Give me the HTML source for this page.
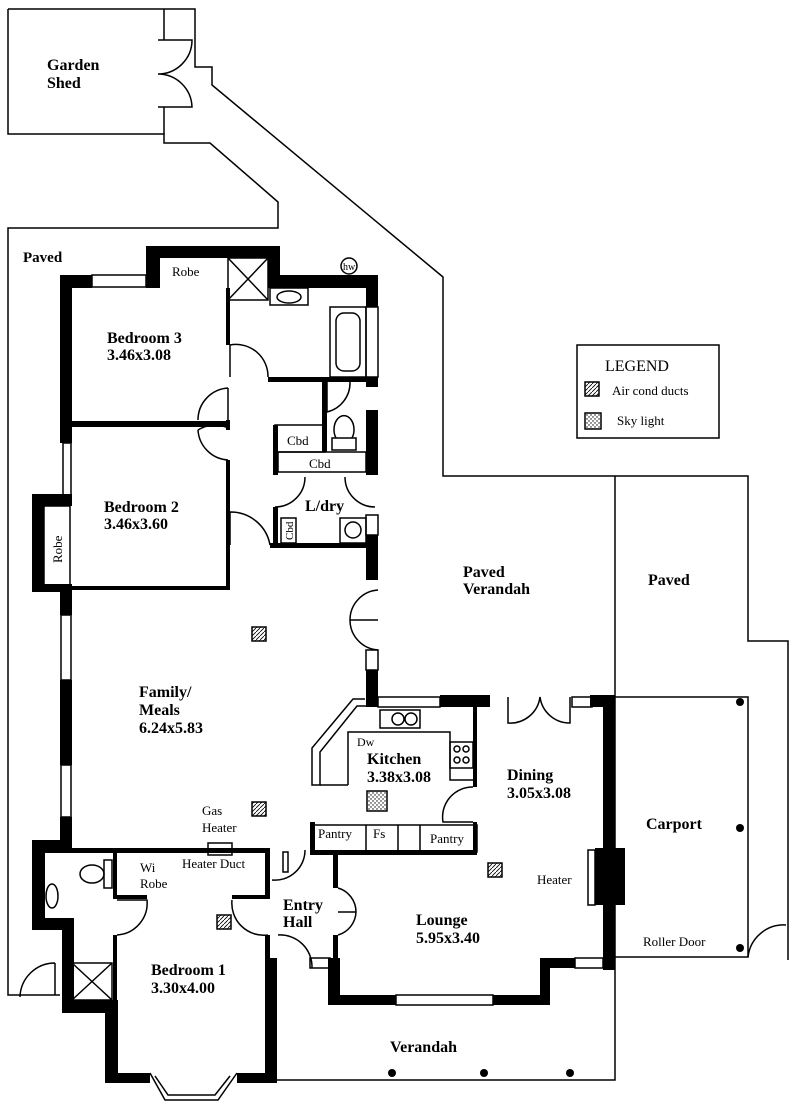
<!DOCTYPE html>
<html><head><meta charset="utf-8"><style>
html,body{margin:0;padding:0;background:#fff}
svg{display:block}
.b{font-family:"Liberation Serif",serif;font-weight:bold;font-size:16px}
.r{font-family:"Liberation Serif",serif;font-size:13px}
</style></head><body>
<svg width="800" height="1115" viewBox="0 0 800 1115" xmlns="http://www.w3.org/2000/svg">
<defs>
<pattern id="hat" width="4" height="4" patternUnits="userSpaceOnUse"><path d="M0,4 L4,0" stroke="#000" stroke-width="0.8"/></pattern>
<pattern id="dot" width="4" height="4" patternUnits="userSpaceOnUse"><circle cx="1" cy="1" r="0.7" fill="#000"/><circle cx="3" cy="3" r="0.7" fill="#000"/></pattern>
</defs>
<g fill="none" stroke="#000" stroke-width="1.5">
<path d="M8,9 H195 V67 H212 V85 L443,277 V476 H748 V641 H788 V960"/>
<path d="M8,9 V134 H164 V143 H210 L278,202 V228 H8 V995 H60"/>
<path d="M164,9 V40 M164,107 V134 M158,40 H192 A34,34 0 0 1 158,74 M158,107 H192 A34,34 0 0 0 158,74"/>
<path d="M615,476 V697"/>
<rect x="615" y="697" width="133" height="260"/>
<path d="M748,957 A36,36 0 0 1 786,925"/>
<path d="M275,1080 H615 V957"/>
<path d="M55,963 V995 M55,963 A35,35 0 0 0 20,997"/>
<rect x="228" y="258" width="40" height="42"/>
<path d="M228,258 L268,300 M268,258 L228,300"/>
<rect x="270" y="288" width="38" height="17"/>
<ellipse cx="289" cy="297" rx="12" ry="6"/>
<rect x="330" y="307" width="36" height="70"/>
<rect x="336" y="313" width="24" height="58" rx="8"/>
<rect x="275" y="425" width="50" height="27"/>
<rect x="278" y="452" width="88" height="20"/>
<rect x="332" y="438" width="24" height="12"/>
<path d="M336,438 A10,14 0 1 1 352,438"/>
<rect x="281" y="518" width="15" height="25"/>
<rect x="340" y="518" width="26" height="25"/>
<circle cx="353" cy="530" r="8"/>
<rect x="44" y="506" width="26" height="84"/>
<path d="M230,345 A32,32 0 0 1 268,377"/>
<path d="M230,345 V377"/>
<path d="M228,388 A32,32 0 0 0 198,420 M228,428 A32,32 0 0 0 198,430 M198,430 A32,32 0 0 0 228,460"/>
<path d="M228,388 V420"/>
<path d="M230,512 A40,40 0 0 1 270,545 M230,512 V545"/>
<path d="M327,382 V412 A30,30 0 0 0 350,382"/>
<path d="M305,477 A30,30 0 0 1 275,507 M345,477 A30,30 0 0 0 375,507"/>
<path d="M378,590 A30,30 0 0 0 350,620 A30,30 0 0 0 378,650 M350,620 H378"/>
<path d="M365,699 H353 L312,748 V785 H320 V752 L357,706 H366"/>
<path d="M348,785 V732 H450 V780 H473"/>
<path d="M348,785 H320"/>
<rect x="380" y="710" width="40" height="18"/>
<circle cx="398" cy="719" r="6"/><circle cx="411" cy="719" r="6"/>
<rect x="450" y="742" width="23" height="26"/>
<circle cx="457" cy="749" r="3"/><circle cx="466" cy="749" r="3"/><circle cx="457" cy="760" r="3"/><circle cx="466" cy="760" r="3"/>
<path d="M473,787 A30,30 0 0 0 443,822 H473"/>
<path d="M508,697 V723 A30,30 0 0 0 540,697 A30,30 0 0 0 570,723 V697"/>
<rect x="312" y="825" width="165" height="27"/>
<path d="M366,825 V852 M398,825 V852 M420,825 V852"/>
<rect x="72" y="963" width="40" height="37"/>
<path d="M72,963 L112,1000 M112,963 L72,1000"/>
<ellipse cx="52" cy="896" rx="6" ry="12"/>
<rect x="104" y="860" width="8" height="28"/>
<ellipse cx="92" cy="874" rx="12" ry="9"/>
<path d="M117,900 H147 A32,32 0 0 1 117,935"/>
<path d="M232,900 A32,32 0 0 0 268,935"/>
<path d="M272,880 A30,30 0 0 0 305,850"/>
<path d="M278,935 A32,32 0 0 1 312,968"/>
<path d="M338,888 A25,25 0 0 1 356,912 A25,25 0 0 1 338,935 M338,912 H356"/>
<rect x="310" y="958" width="20" height="10"/>
<path d="M150,1073 L165,1100 H218 L237,1073 M155,1076 L168,1095 H215 L230,1076"/>
<rect x="208" y="843" width="24" height="12"/>
<rect x="588" y="850" width="7" height="55"/>
<rect x="283" y="852" width="5" height="20"/>
<rect x="92" y="275" width="54" height="12"/>
<rect x="366" y="307" width="12" height="70"/>
<rect x="63" y="443" width="8" height="52"/>
<rect x="61" y="615" width="10" height="65"/>
<rect x="61" y="765" width="10" height="52"/>
<rect x="378" y="697" width="62" height="10"/>
<rect x="572" y="697" width="20" height="10"/>
<rect x="396" y="995" width="97" height="10"/>
<rect x="575" y="958" width="28" height="10"/>
<rect x="366" y="515" width="12" height="20"/>
<rect x="366" y="650" width="12" height="20"/>
</g>
<g fill="#000">
<rect x="60" y="275" width="32" height="13"/>
<rect x="146" y="246" width="14" height="42"/>
<rect x="146" y="246" width="134" height="12"/>
<rect x="268" y="246" width="12" height="42"/>
<rect x="268" y="275" width="110" height="13"/>
<rect x="366" y="275" width="12" height="32"/>
<rect x="366" y="377" width="12" height="10"/>
<rect x="366" y="410" width="12" height="65"/>
<rect x="366" y="535" width="12" height="45"/>
<rect x="366" y="670" width="12" height="37"/>
<rect x="60" y="275" width="12" height="168"/>
<rect x="32" y="494" width="40" height="12"/>
<rect x="32" y="494" width="12" height="96"/>
<rect x="32" y="584" width="40" height="8"/>
<rect x="60" y="584" width="12" height="31"/>
<rect x="60" y="680" width="12" height="85"/>
<rect x="60" y="817" width="12" height="36"/>
<rect x="72" y="421" width="156" height="6"/>
<rect x="226" y="288" width="4" height="57"/>
<rect x="226" y="420" width="4" height="10"/>
<rect x="226" y="460" width="4" height="130"/>
<rect x="72" y="586" width="158" height="4"/>
<rect x="268" y="377" width="98" height="5"/>
<rect x="322" y="382" width="5" height="70"/>
<rect x="273" y="425" width="5" height="50"/>
<rect x="273" y="507" width="5" height="40"/>
<rect x="270" y="543" width="108" height="5"/>
<rect x="440" y="695" width="50" height="12"/>
<rect x="590" y="695" width="25" height="12"/>
<rect x="603" y="695" width="12" height="275"/>
<rect x="595" y="848" width="30" height="57"/>
<rect x="473" y="705" width="4" height="82"/>
<rect x="473" y="822" width="4" height="33"/>
<rect x="310" y="822" width="5" height="33"/>
<rect x="312" y="850" width="165" height="5"/>
<rect x="32" y="840" width="40" height="13"/>
<rect x="32" y="840" width="13" height="90"/>
<rect x="32" y="918" width="42" height="12"/>
<rect x="62" y="918" width="12" height="95"/>
<rect x="62" y="1000" width="56" height="13"/>
<rect x="105" y="1000" width="13" height="83"/>
<rect x="105" y="1073" width="45" height="10"/>
<rect x="237" y="1073" width="38" height="10"/>
<rect x="265" y="958" width="12" height="125"/>
<rect x="265" y="935" width="5" height="25"/>
<rect x="62" y="848" width="208" height="5"/>
<rect x="113" y="853" width="4" height="45"/>
<rect x="113" y="895" width="34" height="4"/>
<rect x="232" y="895" width="38" height="4"/>
<rect x="265" y="853" width="5" height="45"/>
<rect x="113" y="935" width="4" height="65"/>
<rect x="333" y="853" width="5" height="35"/>
<rect x="333" y="935" width="5" height="23"/>
<rect x="328" y="958" width="12" height="47"/>
<rect x="328" y="995" width="68" height="10"/>
<rect x="493" y="995" width="57" height="10"/>
<rect x="540" y="958" width="10" height="47"/>
<rect x="540" y="958" width="35" height="10"/>
<circle cx="740" cy="702" r="4"/><circle cx="740" cy="828" r="4"/><circle cx="740" cy="948" r="4"/>
<circle cx="392" cy="1073" r="4"/><circle cx="484" cy="1073" r="4"/><circle cx="570" cy="1073" r="4"/>
</g>
<g stroke="#000" stroke-width="1.5">
<rect x="252" y="627" width="14" height="14" fill="url(#hat)"/>
<rect x="252" y="802" width="14" height="14" fill="url(#hat)"/>
<rect x="217" y="915" width="14" height="14" fill="url(#hat)"/>
<rect x="488" y="863" width="14" height="14" fill="url(#hat)"/>
<rect x="367" y="791" width="20" height="20" fill="url(#dot)"/>
<rect x="577" y="345" width="142" height="93" fill="none"/>
<rect x="585" y="382" width="14" height="14" fill="url(#hat)"/>
<rect x="585" y="413" width="16" height="16" fill="url(#dot)"/>
<circle cx="349" cy="266" r="8" fill="#fff"/>
</g>
<g class="b">
<text x="47" y="70">Garden</text><text x="47" y="88">Shed</text>
<text x="23" y="262" font-size="15">Paved</text>
<text x="107" y="343">Bedroom 3</text><text x="107" y="360">3.46x3.08</text>
<text x="104" y="512">Bedroom 2</text><text x="104" y="529">3.46x3.60</text>
<text x="305" y="511">L/dry</text>
<text x="463" y="577">Paved</text><text x="463" y="594">Verandah</text>
<text x="648" y="585">Paved</text>
<text x="139" y="697">Family/</text><text x="139" y="715">Meals</text><text x="139" y="733">6.24x5.83</text>
<text x="367" y="764">Kitchen</text><text x="367" y="782">3.38x3.08</text>
<text x="507" y="780">Dining</text><text x="507" y="798">3.05x3.08</text>
<text x="646" y="829">Carport</text>
<text x="283" y="910">Entry</text><text x="283" y="927">Hall</text>
<text x="416" y="925">Lounge</text><text x="416" y="943">5.95x3.40</text>
<text x="151" y="975">Bedroom 1</text><text x="151" y="993">3.30x4.00</text>
<text x="390" y="1052">Verandah</text>
</g>
<g class="r">
<text x="172" y="276">Robe</text>
<text x="343" y="270" font-size="10">hw</text>
<text x="287" y="445">Cbd</text>
<text x="309" y="468">Cbd</text>
<text x="293" y="540" font-size="11" transform="rotate(-90 293 540)">Cbd</text>
<text x="62" y="563" transform="rotate(-90 62 563)">Robe</text>
<text x="605" y="371" font-size="16">LEGEND</text>
<text x="612" y="395">Air cond ducts</text>
<text x="617" y="425">Sky light</text>
<text x="357" y="746" font-size="12">Dw</text>
<text x="202" y="815">Gas</text><text x="202" y="832">Heater</text>
<text x="182" y="868">Heater Duct</text>
<text x="140" y="872">Wi</text><text x="140" y="888">Robe</text>
<text x="537" y="884">Heater</text>
<text x="643" y="946">Roller Door</text>
<text x="318" y="838">Pantry</text><text x="373" y="838">Fs</text><text x="430" y="843">Pantry</text>
</g>
</svg>
</body></html>
